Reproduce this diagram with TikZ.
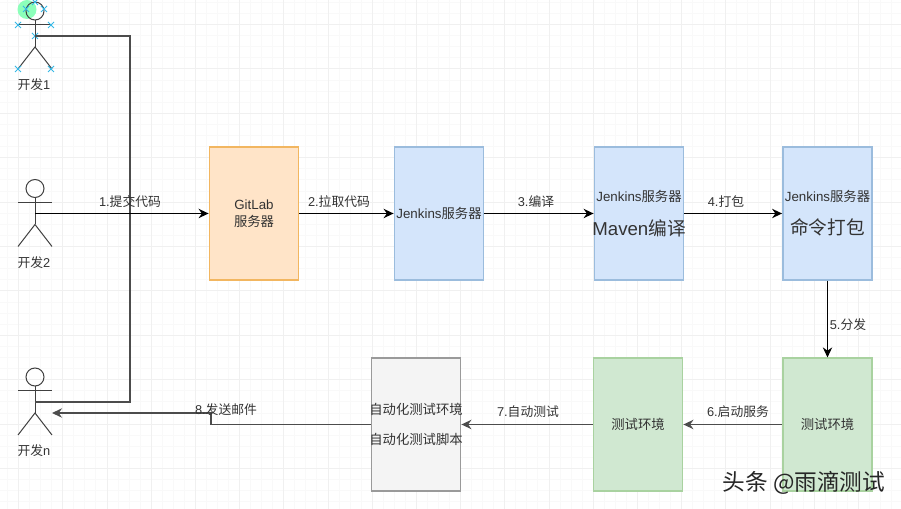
\documentclass[tikz,border=0pt]{standalone}
\usepackage{fontspec}
\setmainfont{Liberation Sans}
\newfontfamily\cjk{Noto Sans CJK SC}
\newcommand{\C}[1]{{\cjk #1}}
\newcommand{\bigtxt}{\fontsize{14}{16}\selectfont}
\usetikzlibrary{arrows.meta}
\definecolor{blueF}{HTML}{D4E5FB}
\definecolor{blueD}{HTML}{9BBCDD}
\definecolor{greenF}{HTML}{D0E8D1}
\definecolor{greenD}{HTML}{A9D2A0}
\definecolor{orangeF}{HTML}{FFE4C8}
\definecolor{orangeD}{HTML}{F2B660}
\definecolor{grayF}{HTML}{F4F4F4}
\definecolor{grayD}{HTML}{9A9A9A}
\definecolor{txt}{HTML}{333333}
\definecolor{gridc}{HTML}{F0F0F0}
\definecolor{gridm}{HTML}{F9F9F9}
\definecolor{xmark}{HTML}{35B8E6}
\tikzset{
  box/.style={draw,line width=1.1pt,minimum width=67pt,minimum height=99.5pt,inner ysep=0pt,inner xsep=-6pt,align=center,text=txt,font=\fontsize{10}{13}\selectfont},
  bluebox/.style={box,fill=blueF,draw=blueD},
  greenbox/.style={box,fill=greenF,draw=greenD},
  orangebox/.style={box,fill=orangeF,draw=orangeD},
  graybox/.style={box,fill=grayF,draw=grayD},
  arr/.style={line width=1pt,draw=black,-{Stealth[length=7.5pt,width=7pt]}},
  garr/.style={line width=1.1pt,draw=black!70,-{Stealth[length=7.5pt,width=7pt]}},
  gline/.style={line width=1.1pt,draw=black!70},
  lab/.style={font=\fontsize{9.6}{11}\selectfont,text=txt,inner sep=0pt},
  actorlab/.style={font=\fontsize{9.6}{11}\selectfont,text=txt,inner sep=0pt},
  stick/.style={line width=.75pt,draw=black!75},
  cross/.style={line width=.6pt,draw=xmark},
}
\newcommand{\actor}[3]{% name, x, y of the middle of the body
  \coordinate (#1) at (#2,#3);
  \draw[stick] (#2,#3-25) circle[radius=9];
  \draw[stick] (#2-17,#3-11) -- (#2+17,#3-11);
  \draw[stick] (#2,#3-16) -- (#2,#3+11);
  \draw[stick] (#2-17,#3+33) -- (#2,#3+11) -- (#2+17,#3+33);
}
\newcommand{\xm}[2]{\draw[cross] (#1-3,#2-3) -- (#1+3,#2+3) (#1-3,#2+3) -- (#1+3,#2-3);}
\begin{document}
\begin{tikzpicture}[x=0.75pt,y=-0.75pt]
\useasboundingbox (0,0) rectangle (901,509);
\fill[white] (0,0) rectangle (901,509);
% grid
\foreach \i in {0,...,82} \draw[gridm,line width=.6pt] ({7.45+11.05*\i},0) -- ({7.45+11.05*\i},509);
\foreach \i in {0,...,46} \draw[gridm,line width=.6pt] (0,{2.3+11.1*\i}) -- (901,{2.3+11.1*\i});
\foreach \i in {0,...,20} \draw[gridc,line width=.6pt] ({18.5+44.2*\i},0) -- ({18.5+44.2*\i},509);
\foreach \i in {0,...,10} \draw[gridc,line width=.6pt] (0,{24.5+44.4*\i}) -- (901,{24.5+44.4*\i});
% highlight
\fill[green!60!cyan!45] (27,9.5) circle[radius=9.5];
% actors
\actor{a1}{35}{36}
\actor{a2}{35}{213.5}
\actor{an}{35}{402}
\foreach \a/\b in {35/2,44/9,26/9,18/25,51/25,35/36,18/69,51/69} {\xm{\a}{\b}}
\node[actorlab] (l1) at (34,85) {\C{开发}1};
\node[actorlab] (l2) at (34,263) {\C{开发}2};
\node[actorlab] (ln) at (34,451) {\C{开发}n};
% boxes
\node[orangebox] (git) at (254,213.5) {GitLab\\\C{服务器}};
\node[bluebox] (j1) at (439,213.5) {Jenkins\C{服务器}};
\node[bluebox] (j2) at (639,213.5) {Jenkins\C{服务器}\\[12pt]{\bigtxt Maven\C{编译}}};
\node[bluebox] (j3) at (827.5,213.5) {Jenkins\C{服务器}\\[12pt]{\bigtxt \C{命令打包}}};
\node[greenbox] (t3) at (827.5,424.5) {\C{测试环境}};
\node[greenbox] (t2) at (638,424.5) {\C{测试环境}};
\node[graybox] (auto) at (416,424.5) {\C{自动化测试环境}\\[9pt]\C{自动化测试脚本}};
% connectors
\coordinate (tr1) at (130,36);
\coordinate (tr2) at (130,402);
\draw[gline] (a1) -- (tr1) -- (tr2) -- (an);
\draw[arr] (a2) -- (git);
\draw[arr] (git) -- (j1);
\draw[arr] (j1) -- (j2);
\draw[arr] (j2) -- (j3);
\draw[arr] (j3) -- (t3);
\draw[garr] (t3) -- (t2);
\draw[garr] (t2) -- (auto);
\coordinate (m1) at (211,424.5);
\coordinate (m2) at (211,413);
\coordinate (mend) at (52,413);
\draw[garr] (auto) -- (m1) -- (m2) -- (mend);
% labels
\node[lab] at (130,202) {1.\C{提交代码}};
\node[lab] at (339,202) {2.\C{拉取代码}};
\node[lab] at (536,202) {3.\C{编译}};
\node[lab] at (726,202) {4.\C{打包}};
\node[lab] at (848,325) {5.\C{分发}};
\node[lab] at (738,412) {6.\C{启动服务}};
\node[lab] at (528,412) {7.\C{自动测试}};
\node[lab] at (226,410) {8.\C{发送邮件}};
% watermark
\node[font=\fontsize{17}{19}\selectfont,text=black!85,inner sep=0pt] at (804,483) {\C{头条 @雨滴测试}};
\end{tikzpicture}
\end{document}
